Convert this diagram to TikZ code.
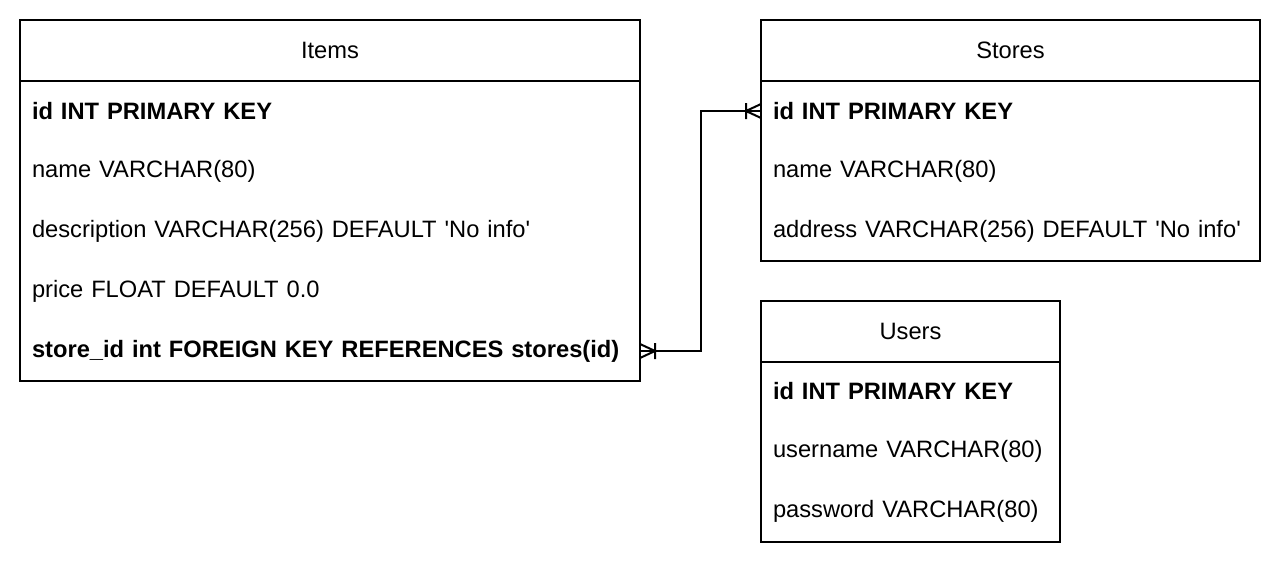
\documentclass[tikz,border=0pt]{standalone}
\usepackage{fontspec}
\setmainfont{Liberation Sans}
\usetikzlibrary{positioning,fit,calc}

\begin{document}
\begin{tikzpicture}[x=1pt,y=-1pt,line width=2pt,
    font=\fontsize{23.7}{28}\selectfont,
    tab head/.style={rectangle,draw,outer sep=0pt,inner sep=0pt,minimum height=61pt},
    tab row/.style={rectangle,outer sep=0pt,inner xsep=12pt,inner ysep=0pt,minimum height=60pt,align=left},
    tab box/.style={rectangle,draw,outer sep=0pt,inner sep=0pt}
                      ]
   \useasboundingbox (0,0) rectangle (1282,562);
   % Items
   \node[tab head,minimum width=620pt] (items) at (330,50.5) {Items};
   \node[tab row,text width=596pt,below=0pt of items] (i1) {\textbf{id INT PRIMARY KEY}};
   \node[tab row,text width=596pt,below=0pt of i1] (i2) {name VARCHAR(80)};
   \node[tab row,text width=596pt,below=0pt of i2] (i3) {description VARCHAR(256) DEFAULT \textquotesingle No info\textquotesingle};
   \node[tab row,text width=596pt,below=0pt of i3] (i4) {price FLOAT DEFAULT 0.0};
   \node[tab row,text width=596pt,below=0pt of i4] (i5) {\textbf{store\_id int FOREIGN KEY REFERENCES stores(id)}};
   \node[tab box,fit=(items)(i5)] (itemsbox) {};
   % Stores
   \node[tab head,minimum width=499pt] (stores) at (1010.5,50.5) {Stores};
   \node[tab row,text width=475pt,below=0pt of stores] (s1) {\textbf{id INT PRIMARY KEY}};
   \node[tab row,text width=475pt,below=0pt of s1] (s2) {name VARCHAR(80)};
   \node[tab row,text width=475pt,below=0pt of s2] (s3) {address VARCHAR(256) DEFAULT \textquotesingle No info\textquotesingle};
   \node[tab box,fit=(stores)(s3)] (storesbox) {};
   % Users
   \node[tab head,minimum width=299pt] (users) at (910.5,331) {Users};
   \node[tab row,text width=275pt,below=0pt of users] (u1) {\textbf{id INT PRIMARY KEY}};
   \node[tab row,text width=275pt,below=0pt of u1] (u2) {username VARCHAR(80)};
   \node[tab row,text width=275pt,below=0pt of u2] (u3) {password VARCHAR(80)};
   \node[tab box,fit=(users)(u3)] (usersbox) {};
   % relation
   \draw (i5.east) -- ++(61,0) |- (s1.west);
   \draw ($(s1.west)+(0,-7)$) -- ($(s1.west)+(-15,0)$) -- ($(s1.west)+(0,7)$)
         ($(s1.west)+(-15,-8)$) -- ($(s1.west)+(-15,8)$);
   \draw ($(i5.east)+(0,-7)$) -- ($(i5.east)+(15,0)$) -- ($(i5.east)+(0,7)$)
         ($(i5.east)+(15,-8)$) -- ($(i5.east)+(15,8)$);
\end{tikzpicture}
\end{document}
